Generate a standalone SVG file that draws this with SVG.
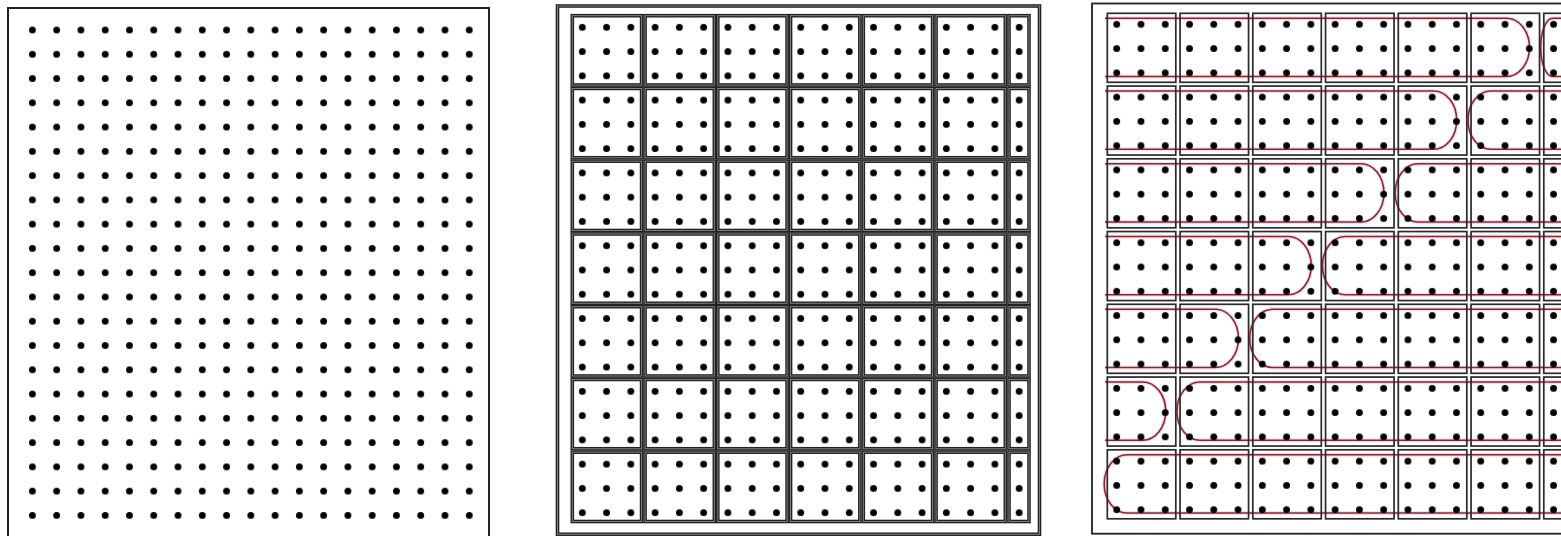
<svg xmlns="http://www.w3.org/2000/svg" xmlns:xlink="http://www.w3.org/1999/xlink" width="1561" height="536" viewBox="0 0 1561 536">
<style>
.frame{fill:none;stroke:#222;stroke-width:2}
.cell3{fill:none;stroke:#2a2a2a;stroke-width:1.7}
.halo{fill:none;stroke:#ecc4c9;stroke-width:4;stroke-opacity:0.5}
.red{fill:none;stroke:#8e2233;stroke-width:1.6}
</style>
<defs>
<pattern id="d1" patternUnits="userSpaceOnUse" x="20.27" y="17.87" width="24.27" height="24.27"><circle cx="12.135" cy="12.135" r="3.4" fill="#000"/></pattern>
<pattern id="d2" patternUnits="userSpaceOnUse" x="570.17" y="15.17" width="24.27" height="24.27"><circle cx="12.135" cy="12.135" r="3.4" fill="#000"/></pattern>
<pattern id="d3" patternUnits="userSpaceOnUse" x="1104.57" y="12.17" width="24.27" height="24.27"><circle cx="12.135" cy="12.135" r="3.4" fill="#000"/></pattern>
<g id="cells2" fill="none">
<rect x="572.3" y="15.7" width="69.3" height="69.3"/><rect x="645.05" y="15.7" width="69.3" height="69.3"/><rect x="717.8" y="15.7" width="69.3" height="69.3"/><rect x="790.55" y="15.7" width="69.3" height="69.3"/><rect x="863.3" y="15.7" width="69.3" height="69.3"/><rect x="936.05" y="15.7" width="69.3" height="69.3"/><rect x="1009" y="15.7" width="20" height="69.3"/>
<rect x="572.3" y="88.45" width="69.3" height="69.3"/><rect x="645.05" y="88.45" width="69.3" height="69.3"/><rect x="717.8" y="88.45" width="69.3" height="69.3"/><rect x="790.55" y="88.45" width="69.3" height="69.3"/><rect x="863.3" y="88.45" width="69.3" height="69.3"/><rect x="936.05" y="88.45" width="69.3" height="69.3"/><rect x="1009" y="88.45" width="20" height="69.3"/>
<rect x="572.3" y="161.2" width="69.3" height="69.3"/><rect x="645.05" y="161.2" width="69.3" height="69.3"/><rect x="717.8" y="161.2" width="69.3" height="69.3"/><rect x="790.55" y="161.2" width="69.3" height="69.3"/><rect x="863.3" y="161.2" width="69.3" height="69.3"/><rect x="936.05" y="161.2" width="69.3" height="69.3"/><rect x="1009" y="161.2" width="20" height="69.3"/>
<rect x="572.3" y="233.95" width="69.3" height="69.3"/><rect x="645.05" y="233.95" width="69.3" height="69.3"/><rect x="717.8" y="233.95" width="69.3" height="69.3"/><rect x="790.55" y="233.95" width="69.3" height="69.3"/><rect x="863.3" y="233.95" width="69.3" height="69.3"/><rect x="936.05" y="233.95" width="69.3" height="69.3"/><rect x="1009" y="233.95" width="20" height="69.3"/>
<rect x="572.3" y="306.7" width="69.3" height="69.3"/><rect x="645.05" y="306.7" width="69.3" height="69.3"/><rect x="717.8" y="306.7" width="69.3" height="69.3"/><rect x="790.55" y="306.7" width="69.3" height="69.3"/><rect x="863.3" y="306.7" width="69.3" height="69.3"/><rect x="936.05" y="306.7" width="69.3" height="69.3"/><rect x="1009" y="306.7" width="20" height="69.3"/>
<rect x="572.3" y="379.45" width="69.3" height="69.3"/><rect x="645.05" y="379.45" width="69.3" height="69.3"/><rect x="717.8" y="379.45" width="69.3" height="69.3"/><rect x="790.55" y="379.45" width="69.3" height="69.3"/><rect x="863.3" y="379.45" width="69.3" height="69.3"/><rect x="936.05" y="379.45" width="69.3" height="69.3"/><rect x="1009" y="379.45" width="20" height="69.3"/>
<rect x="572.3" y="452.2" width="69.3" height="69.3"/><rect x="645.05" y="452.2" width="69.3" height="69.3"/><rect x="717.8" y="452.2" width="69.3" height="69.3"/><rect x="790.55" y="452.2" width="69.3" height="69.3"/><rect x="863.3" y="452.2" width="69.3" height="69.3"/><rect x="936.05" y="452.2" width="69.3" height="69.3"/><rect x="1009" y="452.2" width="20" height="69.3"/>
<rect x="557.5" y="6" width="482" height="528.3"/>
</g>
<g id="red3">
<path d="M1105 18.3H1506.45A23 29.1 0 0 1 1506.45 76.5H1105"/>
<path d="M1570 18.3H1552.7A12 29.1 0 0 0 1552.7 76.5H1570"/>
<path d="M1105 91.05H1433.7A23 29.1 0 0 1 1433.7 149.25H1105"/>
<path d="M1570 91.05H1490.95A23 29.1 0 0 0 1490.95 149.25H1570"/>
<path d="M1105 163.8H1360.95A23 29.1 0 0 1 1360.95 222H1105"/>
<path d="M1570 163.8H1418.2A23 29.1 0 0 0 1418.2 222H1570"/>
<path d="M1105 236.55H1288.2A23 29.1 0 0 1 1288.2 294.75H1105"/>
<path d="M1570 236.55H1345.45A23 29.1 0 0 0 1345.45 294.75H1570"/>
<path d="M1105 309.3H1215.45A23 29.1 0 0 1 1215.45 367.5H1105"/>
<path d="M1570 309.3H1272.7A23 29.1 0 0 0 1272.7 367.5H1570"/>
<path d="M1105 382.05H1142.7A23 29.1 0 0 1 1142.7 440.25H1105"/>
<path d="M1570 382.05H1199.95A23 29.1 0 0 0 1199.95 440.25H1570"/>
<path d="M1570 454.8H1127.2A23 29.1 0 0 0 1127.2 513H1570"/>
</g>
</defs>
<rect width="1561" height="536" fill="#fff"/>

<g id="panel1">
<rect class="frame" x="8" y="8" width="481" height="540"/>
<rect x="20.27" y="17.87" width="461.13" height="509.67" fill="url(#d1)"/>
</g>

<g id="panel2">
<use xlink:href="#cells2" href="#cells2" stroke="#222" stroke-width="3.6"/>
<use xlink:href="#cells2" href="#cells2" stroke="#8a8a8a" stroke-width="0.9"/>
<rect x="570.17" y="15.17" width="461.13" height="509.67" fill="url(#d2)"/>
</g>

<g id="panel3">
<rect class="frame" x="1092" y="3.5" width="500" height="530.2" style="stroke-width:1.8"/>
<use xlink:href="#red3" href="#red3" class="halo"/>
<use xlink:href="#red3" href="#red3" class="red"/>
<g class="cell3">
<rect x="1107.3" y="13.3" width="68.5" height="69"/><rect x="1180.05" y="13.3" width="68.5" height="69"/><rect x="1252.8" y="13.3" width="68.5" height="69"/><rect x="1325.55" y="13.3" width="68.5" height="69"/><rect x="1398.3" y="13.3" width="68.5" height="69"/><rect x="1471.05" y="13.3" width="68.5" height="69"/><rect x="1543.8" y="13.3" width="20" height="69"/>
<rect x="1107.3" y="86.05" width="68.5" height="69"/><rect x="1180.05" y="86.05" width="68.5" height="69"/><rect x="1252.8" y="86.05" width="68.5" height="69"/><rect x="1325.55" y="86.05" width="68.5" height="69"/><rect x="1398.3" y="86.05" width="68.5" height="69"/><rect x="1471.05" y="86.05" width="68.5" height="69"/><rect x="1543.8" y="86.05" width="20" height="69"/>
<rect x="1107.3" y="158.8" width="68.5" height="69"/><rect x="1180.05" y="158.8" width="68.5" height="69"/><rect x="1252.8" y="158.8" width="68.5" height="69"/><rect x="1325.55" y="158.8" width="68.5" height="69"/><rect x="1398.3" y="158.8" width="68.5" height="69"/><rect x="1471.05" y="158.8" width="68.5" height="69"/><rect x="1543.8" y="158.8" width="20" height="69"/>
<rect x="1107.3" y="231.55" width="68.5" height="69"/><rect x="1180.05" y="231.55" width="68.5" height="69"/><rect x="1252.8" y="231.55" width="68.5" height="69"/><rect x="1325.55" y="231.55" width="68.5" height="69"/><rect x="1398.3" y="231.55" width="68.5" height="69"/><rect x="1471.05" y="231.55" width="68.5" height="69"/><rect x="1543.8" y="231.55" width="20" height="69"/>
<rect x="1107.3" y="304.3" width="68.5" height="69"/><rect x="1180.05" y="304.3" width="68.5" height="69"/><rect x="1252.8" y="304.3" width="68.5" height="69"/><rect x="1325.55" y="304.3" width="68.5" height="69"/><rect x="1398.3" y="304.3" width="68.5" height="69"/><rect x="1471.05" y="304.3" width="68.5" height="69"/><rect x="1543.8" y="304.3" width="20" height="69"/>
<rect x="1107.3" y="377.05" width="68.5" height="69"/><rect x="1180.05" y="377.05" width="68.5" height="69"/><rect x="1252.8" y="377.05" width="68.5" height="69"/><rect x="1325.55" y="377.05" width="68.5" height="69"/><rect x="1398.3" y="377.05" width="68.5" height="69"/><rect x="1471.05" y="377.05" width="68.5" height="69"/><rect x="1543.8" y="377.05" width="20" height="69"/>
<rect x="1107.3" y="449.8" width="68.5" height="69"/><rect x="1180.05" y="449.8" width="68.5" height="69"/><rect x="1252.8" y="449.8" width="68.5" height="69"/><rect x="1325.55" y="449.8" width="68.5" height="69"/><rect x="1398.3" y="449.8" width="68.5" height="69"/><rect x="1471.05" y="449.8" width="68.5" height="69"/><rect x="1543.8" y="449.8" width="20" height="69"/>
</g>
<rect x="1104.57" y="12.17" width="461.13" height="509.67" fill="url(#d3)"/>
</g>
</svg>
